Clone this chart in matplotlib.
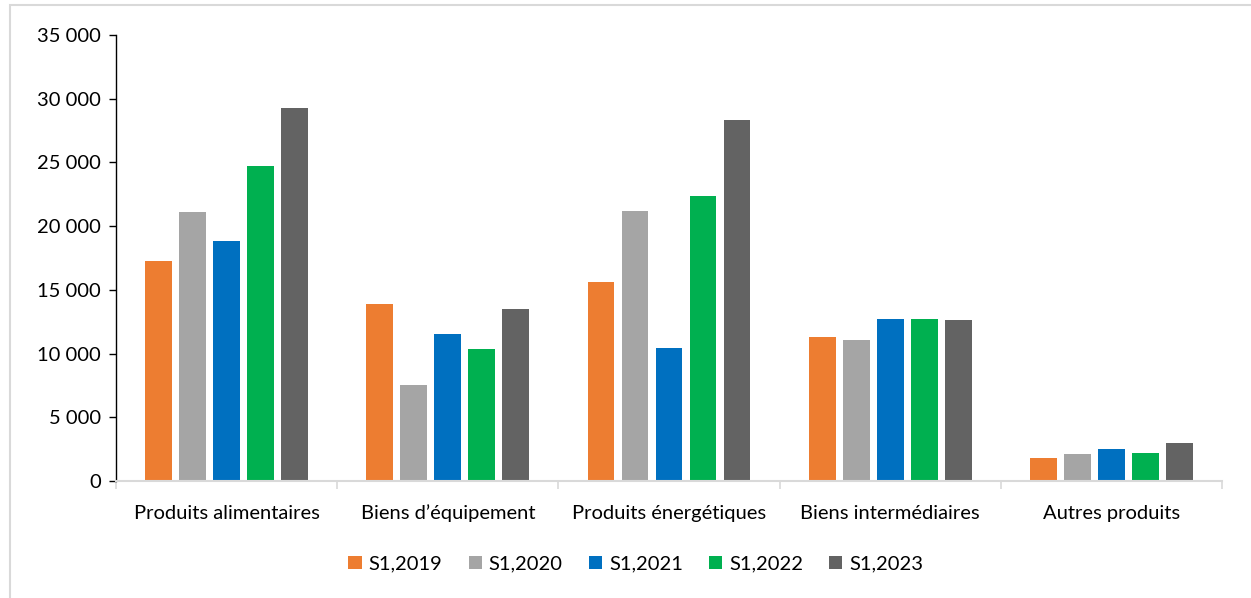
import matplotlib
matplotlib.use("Agg")
import matplotlib.pyplot as plt
from matplotlib.patches import Rectangle
from matplotlib.ticker import FuncFormatter, FixedLocator
import numpy as np

categories = ["Produits alimentaires", "Biens d\u2019\u00e9quipement", "Produits \u00e9nerg\u00e9tiques",
              "Biens interm\u00e9diaires", "Autres produits"]
series_names = ["S1,2019", "S1,2020", "S1,2021", "S1,2022", "S1,2023"]
s2019 = [17300, 13900, 15650, 11300, 1800]
s2020 = [21100, 7550, 21150, 11050, 2100]
s2021 = [18800, 11550, 10400, 12750, 2500]
s2022 = [24700, 10350, 22400, 12700, 2200]
s2023 = [29300, 13500, 28300, 12650, 3000]
colors = ["#ED7D31", "#A5A5A5", "#0070C0", "#00B050", "#636363"]

plt.rcParams['font.family'] = ['Lato', 'DejaVu Sans']
FS = 14.5

W, H = 1251, 598
fig = plt.figure(figsize=(W / 100, H / 100), dpi=100)
# outer chart border (light gray)
fig.patches.append(Rectangle((10 / W, -0.1), 1.2, (H - 5) / H + 0.1, transform=fig.transFigure,
                             fill=False, edgecolor="#D9D9D9", linewidth=1.5))

ax = fig.add_axes([116 / W, (H - 481) / H, (1222 - 116) / W, (481 - 35) / H])
x = np.arange(len(categories))
step = 34 / 221.2
width = 26.7 / 221.2
all_series = [s2019, s2020, s2021, s2022, s2023]
for i, (vals, name, c) in enumerate(zip(all_series, series_names, colors)):
    ax.bar(x + (i - 2) * step, vals, width=width, color=c, label=name)

ax.set_xlim(-0.5, len(categories) - 0.5)
ax.set_ylim(0, 35000)
ax.yaxis.set_major_locator(FixedLocator(np.arange(0, 35001, 5000)))
ax.yaxis.set_major_formatter(FuncFormatter(lambda v, p: f"{int(v):,}".replace(",", " ")))
ax.tick_params(axis='y', labelsize=FS, length=5, width=1, color="black", pad=6)

ax.set_xticks(x)
ax.set_xticklabels(categories)
ax.tick_params(axis='x', which='major', length=0, labelsize=FS, pad=17)
ax.set_xticks(np.arange(-0.5, len(categories), 1), minor=True)
ax.tick_params(axis='x', which='minor', length=6, width=1.2, color="#D9D9D9")

for s in ["top", "right"]:
    ax.spines[s].set_visible(False)
ax.spines["left"].set_color("black")
ax.spines["left"].set_linewidth(1)
ax.spines["bottom"].set_color("#D9D9D9")
ax.spines["bottom"].set_linewidth(1.5)

leg = fig.legend(loc="center", bbox_to_anchor=(636 / W, (H - 564) / H), ncol=5, frameon=False,
                 fontsize=FS, handlelength=0.65, handleheight=0.65, handletextpad=0.35,
                 columnspacing=1.3)

fig.savefig("out.png", dpi=100)
